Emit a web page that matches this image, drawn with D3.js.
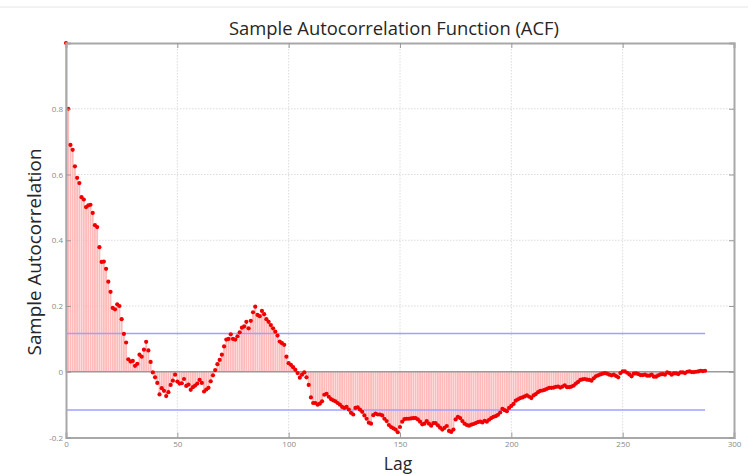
<!DOCTYPE html>
<html>
<head>
<meta charset="utf-8">
<script src="https://cdn.jsdelivr.net/npm/d3@7"></script>
<style>
  body { margin: 0; background: #fff; }
  svg { display: block; font-family: "Open Sans", sans-serif; }
</style>
</head>
<body>
<div id="chart"></div>
<script>
let width = 748;
let height = 475;

// ACF values for lags 0..287
let acfValues = [
  1.000, 0.800, 0.690, 0.675, 0.625, 0.590, 0.574, 0.531, 0.524, 0.501,
  0.506, 0.508, 0.483, 0.446, 0.440, 0.379, 0.334, 0.335, 0.313, 0.274,
  0.243, 0.194, 0.190, 0.205, 0.200, 0.160, 0.115, 0.089, 0.038, 0.031,
  0.033, 0.018, 0.024, 0.052, 0.046, 0.067, 0.091, 0.065, 0.030, -0.002,
  -0.017, -0.034, -0.069, -0.050, -0.058, -0.074, -0.062, -0.040, -0.027, -0.009,
  -0.030, -0.036, -0.035, -0.022, -0.043, -0.039, -0.055, -0.047, -0.042, -0.036,
  -0.025, -0.034, -0.060, -0.054, -0.049, -0.029, -0.011, 0.005, 0.023, 0.036,
  0.052, 0.077, 0.098, 0.100, 0.114, 0.100, 0.098, 0.108, 0.120, 0.134,
  0.138, 0.152, 0.132, 0.155, 0.181, 0.198, 0.173, 0.169, 0.185, 0.175,
  0.160, 0.152, 0.142, 0.132, 0.122, 0.110, 0.092, 0.087, 0.082, 0.046,
  0.026, 0.021, 0.014, 0.006, -0.004, -0.018, -0.009, -0.002, -0.017, -0.040,
  -0.078, -0.095, -0.095, -0.100, -0.097, -0.090, -0.070, -0.067, -0.076, -0.083,
  -0.087, -0.090, -0.095, -0.100, -0.107, -0.110, -0.107, -0.115, -0.125, -0.130,
  -0.110, -0.108, -0.115, -0.122, -0.133, -0.143, -0.155, -0.158, -0.132, -0.127,
  -0.130, -0.130, -0.133, -0.143, -0.150, -0.162, -0.168, -0.172, -0.176, -0.184,
  -0.168, -0.152, -0.144, -0.143, -0.143, -0.142, -0.141, -0.141, -0.145, -0.152,
  -0.160, -0.158, -0.150, -0.158, -0.164, -0.156, -0.156, -0.163, -0.170, -0.176,
  -0.171, -0.165, -0.180, -0.183, -0.176, -0.145, -0.137, -0.141, -0.150, -0.158,
  -0.162, -0.164, -0.161, -0.159, -0.156, -0.153, -0.152, -0.154, -0.149, -0.152,
  -0.146, -0.141, -0.137, -0.135, -0.131, -0.124, -0.113, -0.117, -0.120, -0.110,
  -0.104, -0.098, -0.088, -0.084, -0.080, -0.078, -0.075, -0.072, -0.076, -0.080,
  -0.072, -0.068, -0.062, -0.058, -0.057, -0.055, -0.052, -0.049, -0.049, -0.048,
  -0.046, -0.045, -0.048, -0.045, -0.041, -0.047, -0.047, -0.045, -0.042, -0.036,
  -0.031, -0.025, -0.023, -0.022, -0.024, -0.025, -0.027, -0.020, -0.014, -0.011,
  -0.008, -0.006, -0.004, -0.006, -0.009, -0.011, -0.009, -0.013, -0.017, -0.004,
  0.001, 0.001, -0.003, -0.008, -0.014, -0.006, -0.005, -0.007, -0.010, -0.010,
  -0.009, -0.012, -0.012, -0.009, -0.015, -0.015, -0.011, -0.008, -0.007, -0.009,
  -0.002, -0.004, -0.009, -0.005, -0.005, -0.007, -0.002, -0.002, -0.004, 0.000,
  0.001, -0.001, -0.001, 0.000, 0.001, 0.003, 0.002, 0.003
];
let lags = acfValues.map((v, i) => i);

let confBound = 0.116;
let xTicks = [0, 50, 100, 150, 200, 250, 300];
let yTicks = [-0.2, 0, 0.2, 0.4, 0.6, 0.8];
let xGrid = [50, 100, 150, 200, 250];
let yGrid = [0.2, 0.4, 0.6, 0.8];

let titleText = "Sample Autocorrelation Function (ACF)";
let xLabelText = "Lag";
let yLabelText = "Sample Autocorrelation";

let svg = d3.select("#chart").append("svg")
    .attr("width", width)
    .attr("height", height);

let xScale = d3.scaleLinear().domain([0, 300]).range([66, 734]);
let yScale = d3.scaleLinear().domain([-0.2, 1]).range([437.5, 43]);

// faint frame line at the top of the screenshot
svg.append("line")
    .attr("x1", 0).attr("x2", width)
    .attr("y1", 7).attr("y2", 7)
    .attr("stroke", "#e4e4e4").attr("stroke-width", 1);

// dotted grid
svg.append("g").selectAll("line").data(xGrid).enter().append("line")
    .attr("x1", d => xScale(d)).attr("x2", d => xScale(d))
    .attr("y1", yScale(1)).attr("y2", yScale(-0.2))
    .attr("stroke", "#dcdcdc").attr("stroke-width", 1)
    .attr("stroke-dasharray", "1.5,1.5");

svg.append("g").selectAll("line").data(yGrid).enter().append("line")
    .attr("x1", xScale(0)).attr("x2", xScale(300))
    .attr("y1", d => yScale(d)).attr("y2", d => yScale(d))
    .attr("stroke", "#dcdcdc").attr("stroke-width", 1)
    .attr("stroke-dasharray", "1.5,1.5");

// stems
svg.append("g").selectAll("line").data(lags).enter().append("line")
    .attr("x1", d => xScale(d)).attr("x2", d => xScale(d))
    .attr("y1", yScale(0)).attr("y2", d => yScale(acfValues[d]))
    .attr("stroke", "#ffbaba").attr("stroke-width", 1.85);

// zero line
svg.append("line")
    .attr("x1", xScale(0)).attr("x2", xScale(300))
    .attr("y1", yScale(0)).attr("y2", yScale(0))
    .attr("stroke", "#9a9a9a").attr("stroke-width", 1.5);

// confidence bounds
svg.append("g").selectAll("line").data([confBound, -confBound]).enter().append("line")
    .attr("x1", xScale(0)).attr("x2", xScale(lags.length - 1))
    .attr("y1", d => yScale(d)).attr("y2", d => yScale(d))
    .attr("stroke", "#a0a0ff").attr("stroke-width", 1.5);

// markers
svg.append("g").selectAll("circle").data(lags).enter().append("circle")
    .attr("cx", d => xScale(d))
    .attr("cy", d => yScale(acfValues[d]))
    .attr("r", 2.1)
    .attr("fill", "#f00000");

// axes
let xAxis = d3.axisBottom(xScale).tickValues(xTicks).tickSize(-5).tickPadding(4)
    .tickFormat(d => String(d));
let xAxisGroup = svg.append("g").attr("transform", "translate(0," + yScale(-0.2) + ")").call(xAxis);

let xAxisTop = d3.axisTop(xScale).tickValues(xTicks).tickSize(-5).tickFormat("");
let xTopGroup = svg.append("g").attr("transform", "translate(0," + yScale(1) + ")").call(xAxisTop);

let yAxis = d3.axisLeft(yScale).tickValues(yTicks).tickSize(-5).tickPadding(3)
    .tickFormat(d => String(d));
let yAxisGroup = svg.append("g").attr("transform", "translate(" + xScale(0) + ",0)").call(yAxis);

let yAxisRight = d3.axisRight(yScale).tickValues(yTicks).tickSize(-5).tickFormat("");
let yRightGroup = svg.append("g").attr("transform", "translate(" + xScale(300) + ",0)").call(yAxisRight);

[xAxisGroup, xTopGroup, yAxisGroup, yRightGroup].forEach(g => {
    g.select(".domain").attr("stroke", "#a8a8a8").attr("stroke-width", 2);
    g.selectAll(".tick line").attr("stroke", "#9a9a9a");
    g.selectAll(".tick text").attr("fill", "#8a8a8a").style("font-size", "8px")
        .style("font-family", "'Open Sans', sans-serif");
});

// title and labels
svg.append("text")
    .text(titleText)
    .attr("x", 394).attr("y", 35)
    .attr("text-anchor", "middle")
    .style("font-size", "18.4px")
    .attr("fill", "#262626");

svg.append("text")
    .text(xLabelText)
    .attr("x", 398).attr("y", 470)
    .attr("text-anchor", "middle")
    .style("font-size", "17.5px")
    .attr("fill", "#262626");

svg.append("text")
    .text(yLabelText)
    .attr("transform", "translate(41,252) rotate(-90)")
    .attr("text-anchor", "middle")
    .style("font-size", "18.8px")
    .attr("fill", "#262626");
</script>
</body>
</html>
